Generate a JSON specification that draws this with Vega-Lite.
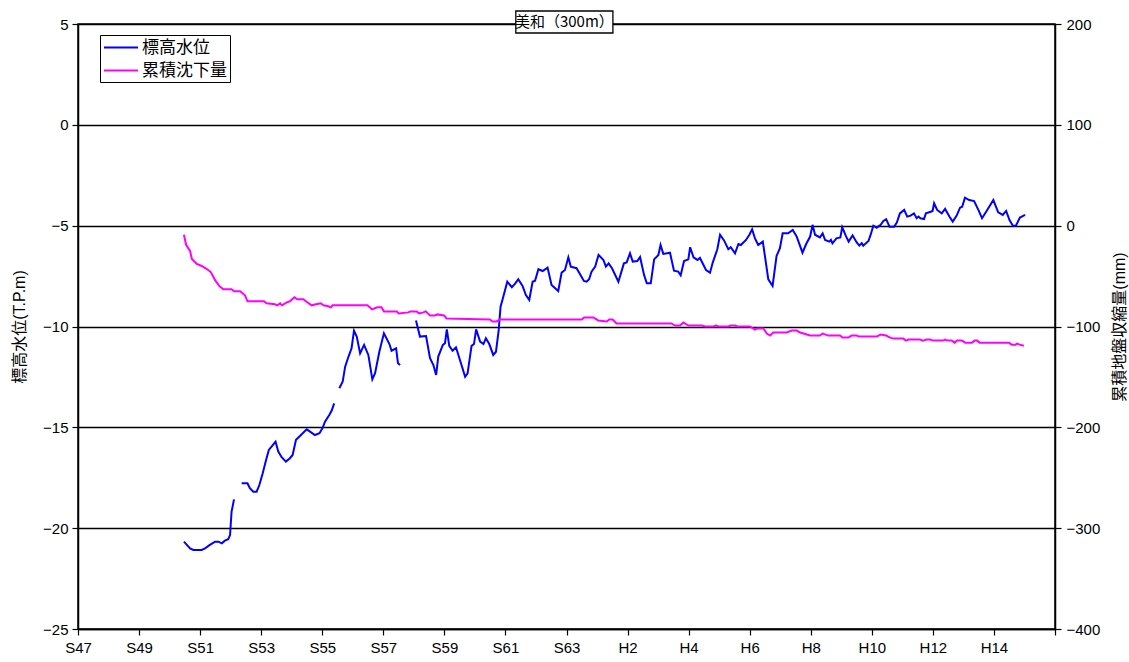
{
  "$schema": "https://vega.github.io/schema/vega-lite/v6.json",
  "width": 977,
  "height": 605,
  "autosize": "none",
  "padding": {"left": 78, "top": 24, "right": 74, "bottom": 33},
  "background": "white",
  "config": {
    "font": "Liberation Sans, Noto Sans CJK JP",
    "view": {"stroke": "black", "strokeWidth": 1.5},
    "axis": {
      "labelColor": "black", "labelFontSize": 15, "labelFont": "Liberation Sans",
      "titleColor": "black", "titleFontSize": 16, "titleFontWeight": "normal", "titleFont": "Liberation Sans, Noto Sans CJK JP",
      "domainColor": "black", "domainWidth": 1.5,
      "tickColor": "black", "tickWidth": 1.2, "tickSize": 6
    },
    "legend": {
      "orient": "none", "legendX": 22, "legendY": 11,
      "strokeColor": "black", "fillColor": "white", "padding": 3,
      "symbolType": "M-1,0L3,0", "symbolSize": 289, "symbolStrokeWidth": 2,
      "labelFontSize": 17, "labelFont": "Noto Sans CJK JP", "labelColor": "black",
      "rowPadding": 5, "labelOffset": 20, "title": null
    }
  },
  "datasets": {
    "level": [
      {"s":"標高水位","seg":1,"year":1975.47,"v":-20.67},{"s":"標高水位","seg":1,"year":1975.67,"v":-21.0},{"s":"標高水位","seg":1,"year":1975.78,"v":-21.08},{"s":"標高水位","seg":1,"year":1976.05,"v":-21.08},{"s":"標高水位","seg":1,"year":1976.16,"v":-21.0},{"s":"標高水位","seg":1,"year":1976.32,"v":-20.83},{"s":"標高水位","seg":1,"year":1976.49,"v":-20.67},{"s":"標高水位","seg":1,"year":1976.60,"v":-20.67},{"s":"標高水位","seg":1,"year":1976.71,"v":-20.75},{"s":"標高水位","seg":1,"year":1976.81,"v":-20.62},{"s":"標高水位","seg":1,"year":1976.92,"v":-20.55},{"s":"標高水位","seg":1,"year":1976.98,"v":-20.34},{"s":"標高水位","seg":1,"year":1977.03,"v":-19.18},{"s":"標高水位","seg":1,"year":1977.11,"v":-18.57},
      {"s":"標高水位","seg":2,"year":1977.36,"v":-17.77},{"s":"標高水位","seg":2,"year":1977.55,"v":-17.77},{"s":"標高水位","seg":2,"year":1977.63,"v":-18.02},{"s":"標高水位","seg":2,"year":1977.74,"v":-18.19},{"s":"標高水位","seg":2,"year":1977.85,"v":-18.19},{"s":"標高水位","seg":2,"year":1977.94,"v":-17.86},{"s":"標高水位","seg":2,"year":1978.05,"v":-17.28},{"s":"標高水位","seg":2,"year":1978.16,"v":-16.62},{"s":"標高水位","seg":2,"year":1978.25,"v":-16.12},{"s":"標高水位","seg":2,"year":1978.34,"v":-15.96},{"s":"標高水位","seg":2,"year":1978.47,"v":-15.71},{"s":"標高水位","seg":2,"year":1978.56,"v":-16.20},{"s":"標高水位","seg":2,"year":1978.67,"v":-16.48},{"s":"標高水位","seg":2,"year":1978.81,"v":-16.70},{"s":"標高水位","seg":2,"year":1978.94,"v":-16.53},{"s":"標高水位","seg":2,"year":1979.03,"v":-16.37},{"s":"標高水位","seg":2,"year":1979.14,"v":-15.62},{"s":"標高水位","seg":2,"year":1979.27,"v":-15.43},{"s":"標高水位","seg":2,"year":1979.49,"v":-15.10},{"s":"標高水位","seg":2,"year":1979.60,"v":-15.21},{"s":"標高水位","seg":2,"year":1979.76,"v":-15.38},{"s":"標高水位","seg":2,"year":1979.91,"v":-15.29},{"s":"標高水位","seg":2,"year":1980.01,"v":-15.04},{"s":"標高水位","seg":2,"year":1980.09,"v":-14.72},{"s":"標高水位","seg":2,"year":1980.23,"v":-14.39},{"s":"標高水位","seg":2,"year":1980.31,"v":-14.17},{"s":"標高水位","seg":2,"year":1980.39,"v":-13.81},
      {"s":"標高水位","seg":3,"year":1980.56,"v":-13.06},{"s":"標高水位","seg":3,"year":1980.67,"v":-12.73},{"s":"標高水位","seg":3,"year":1980.75,"v":-11.99},{"s":"標高水位","seg":3,"year":1980.86,"v":-11.49},{"s":"標高水位","seg":3,"year":1980.96,"v":-11.08},{"s":"標高水位","seg":3,"year":1981.04,"v":-10.21},{"s":"標高水位","seg":3,"year":1981.13,"v":-10.50},{"s":"標高水位","seg":3,"year":1981.24,"v":-11.33},{"s":"標高水位","seg":3,"year":1981.37,"v":-10.91},{"s":"標高水位","seg":3,"year":1981.51,"v":-11.41},{"s":"標高水位","seg":3,"year":1981.64,"v":-12.62},{"s":"標高水位","seg":3,"year":1981.73,"v":-12.32},{"s":"標高水位","seg":3,"year":1981.87,"v":-11.25},{"s":"標高水位","seg":3,"year":1981.91,"v":-11.0},{"s":"標高水位","seg":3,"year":1982.02,"v":-10.34},{"s":"標高水位","seg":3,"year":1982.20,"v":-10.87},{"s":"標高水位","seg":3,"year":1982.27,"v":-11.20},{"s":"標高水位","seg":3,"year":1982.42,"v":-11.08},{"s":"標高水位","seg":3,"year":1982.48,"v":-11.82},{"s":"標高水位","seg":3,"year":1982.55,"v":-11.91},
      {"s":"標高水位","seg":4,"year":1983.07,"v":-9.70},{"s":"標高水位","seg":4,"year":1983.20,"v":-10.50},{"s":"標高水位","seg":4,"year":1983.40,"v":-10.47},{"s":"標高水位","seg":4,"year":1983.53,"v":-11.57},{"s":"標高水位","seg":4,"year":1983.64,"v":-11.91},{"s":"標高水位","seg":4,"year":1983.73,"v":-12.40},{"s":"標高水位","seg":4,"year":1983.80,"v":-11.49},{"s":"標高水位","seg":4,"year":1983.95,"v":-10.91},{"s":"標高水位","seg":4,"year":1984.02,"v":-10.83},{"s":"標高水位","seg":4,"year":1984.08,"v":-10.14},{"s":"標高水位","seg":4,"year":1984.16,"v":-10.96},{"s":"標高水位","seg":4,"year":1984.27,"v":-11.20},{"s":"標高水位","seg":4,"year":1984.38,"v":-11.03},{"s":"標高水位","seg":4,"year":1984.51,"v":-11.66},{"s":"標高水位","seg":4,"year":1984.68,"v":-12.49},{"s":"標高水位","seg":4,"year":1984.76,"v":-12.32},{"s":"標高水位","seg":4,"year":1984.89,"v":-10.96},{"s":"標高水位","seg":4,"year":1984.97,"v":-10.87},{"s":"標高水位","seg":4,"year":1985.04,"v":-10.14},{"s":"標高水位","seg":4,"year":1985.17,"v":-10.75},{"s":"標高水位","seg":4,"year":1985.28,"v":-10.87},{"s":"標高水位","seg":4,"year":1985.36,"v":-10.58},{"s":"標高水位","seg":4,"year":1985.47,"v":-10.87},{"s":"標高水位","seg":4,"year":1985.60,"v":-11.41},{"s":"標高水位","seg":4,"year":1985.69,"v":-11.25},{"s":"標高水位","seg":4,"year":1985.78,"v":-10.17},{"s":"標高水位","seg":4,"year":1985.84,"v":-9.02},{"s":"標高水位","seg":4,"year":1985.93,"v":-8.52},{"s":"標高水位","seg":4,"year":1986.06,"v":-7.78},{"s":"標高水位","seg":4,"year":1986.21,"v":-8.05},{"s":"標高水位","seg":4,"year":1986.31,"v":-7.89},{"s":"標高水位","seg":4,"year":1986.42,"v":-7.66},{"s":"標高水位","seg":4,"year":1986.56,"v":-7.99},{"s":"標高水位","seg":4,"year":1986.67,"v":-8.44},{"s":"標高水位","seg":4,"year":1986.78,"v":-8.68},{"s":"標高水位","seg":4,"year":1986.89,"v":-7.78},{"s":"標高水位","seg":4,"year":1986.97,"v":-7.73},{"s":"標高水位","seg":4,"year":1987.08,"v":-7.16},{"s":"標高水位","seg":4,"year":1987.22,"v":-7.25},{"s":"標高水位","seg":4,"year":1987.38,"v":-7.08},{"s":"標高水位","seg":4,"year":1987.51,"v":-7.94},{"s":"標高水位","seg":4,"year":1987.73,"v":-8.24},{"s":"標高水位","seg":4,"year":1987.84,"v":-7.33},{"s":"標高水位","seg":4,"year":1987.95,"v":-7.20},{"s":"標高水位","seg":4,"year":1988.06,"v":-6.57},{"s":"標高水位","seg":4,"year":1988.14,"v":-7.03},{"s":"標高水位","seg":4,"year":1988.33,"v":-7.11},{"s":"標高水位","seg":4,"year":1988.57,"v":-7.74},{"s":"標高水位","seg":4,"year":1988.66,"v":-7.78},{"s":"標高水位","seg":4,"year":1988.74,"v":-7.66},{"s":"標高水位","seg":4,"year":1988.82,"v":-7.28},{"s":"標高水位","seg":4,"year":1988.94,"v":-7.03},{"s":"標高水位","seg":4,"year":1989.05,"v":-6.45},{"s":"標高水位","seg":4,"year":1989.21,"v":-6.70},{"s":"標高水位","seg":4,"year":1989.29,"v":-7.03},{"s":"標高水位","seg":4,"year":1989.38,"v":-6.87},{"s":"標高水位","seg":4,"year":1989.49,"v":-7.11},{"s":"標高水位","seg":4,"year":1989.70,"v":-7.78},{"s":"標高水位","seg":4,"year":1989.88,"v":-6.87},{"s":"標高水位","seg":4,"year":1989.97,"v":-6.82},{"s":"標高水位","seg":4,"year":1990.08,"v":-6.37},{"s":"標高水位","seg":4,"year":1990.17,"v":-6.78},{"s":"標高水位","seg":4,"year":1990.32,"v":-6.75},{"s":"標高水位","seg":4,"year":1990.41,"v":-6.55},{"s":"標高水位","seg":4,"year":1990.54,"v":-7.44},{"s":"標高水位","seg":4,"year":1990.63,"v":-7.86},{"s":"標高水位","seg":4,"year":1990.76,"v":-7.86},{"s":"標高水位","seg":4,"year":1990.87,"v":-6.67},{"s":"標高水位","seg":4,"year":1991.01,"v":-6.45},{"s":"標高水位","seg":4,"year":1991.08,"v":-5.96},{"s":"標高水位","seg":4,"year":1991.17,"v":-6.40},{"s":"標高水位","seg":4,"year":1991.39,"v":-6.34},{"s":"標高水位","seg":4,"year":1991.52,"v":-7.23},{"s":"標高水位","seg":4,"year":1991.66,"v":-7.28},{"s":"標高水位","seg":4,"year":1991.74,"v":-7.46},{"s":"標高水位","seg":4,"year":1991.85,"v":-6.75},{"s":"標高水位","seg":4,"year":1991.99,"v":-6.67},{"s":"標高水位","seg":4,"year":1992.05,"v":-6.07},{"s":"標高水位","seg":4,"year":1992.16,"v":-6.57},{"s":"標高水位","seg":4,"year":1992.29,"v":-6.70},{"s":"標高水位","seg":4,"year":1992.37,"v":-6.60},{"s":"標高水位","seg":4,"year":1992.57,"v":-7.20},{"s":"標高水位","seg":4,"year":1992.70,"v":-7.33},{"s":"標高水位","seg":4,"year":1992.79,"v":-6.83},{"s":"標高水位","seg":4,"year":1992.94,"v":-6.17},{"s":"標高水位","seg":4,"year":1993.03,"v":-5.45},{"s":"標高水位","seg":4,"year":1993.16,"v":-5.73},{"s":"標高水位","seg":4,"year":1993.30,"v":-6.17},{"s":"標高水位","seg":4,"year":1993.38,"v":-6.07},{"s":"標高水位","seg":4,"year":1993.52,"v":-6.37},{"s":"標高水位","seg":4,"year":1993.63,"v":-5.91},{"s":"標高水位","seg":4,"year":1993.71,"v":-5.96},{"s":"標高水位","seg":4,"year":1993.88,"v":-5.71},{"s":"標高水位","seg":4,"year":1993.99,"v":-5.45},{"s":"標高水位","seg":4,"year":1994.08,"v":-5.18},{"s":"標高水位","seg":4,"year":1994.17,"v":-5.62},{"s":"標高水位","seg":4,"year":1994.28,"v":-5.96},{"s":"標高水位","seg":4,"year":1994.43,"v":-5.79},{"s":"標高水位","seg":4,"year":1994.61,"v":-7.66},{"s":"標高水位","seg":4,"year":1994.75,"v":-7.99},{"s":"標高水位","seg":4,"year":1994.88,"v":-6.50},{"s":"標高水位","seg":4,"year":1994.99,"v":-6.12},{"s":"標高水位","seg":4,"year":1995.08,"v":-5.38},{"s":"標高水位","seg":4,"year":1995.26,"v":-5.38},{"s":"標高水位","seg":4,"year":1995.41,"v":-5.21},{"s":"標高水位","seg":4,"year":1995.54,"v":-5.54},{"s":"標高水位","seg":4,"year":1995.73,"v":-6.34},{"s":"標高水位","seg":4,"year":1995.85,"v":-5.91},{"s":"標高水位","seg":4,"year":1995.98,"v":-5.54},{"s":"標高水位","seg":4,"year":1996.06,"v":-4.96},{"s":"標高水位","seg":4,"year":1996.14,"v":-5.45},{"s":"標高水位","seg":4,"year":1996.30,"v":-5.58},{"s":"標高水位","seg":4,"year":1996.39,"v":-5.38},{"s":"標高水位","seg":4,"year":1996.47,"v":-5.71},{"s":"標高水位","seg":4,"year":1996.61,"v":-5.79},{"s":"標高水位","seg":4,"year":1996.66,"v":-5.70},{"s":"標高水位","seg":4,"year":1996.71,"v":-5.88},{"s":"標高水位","seg":4,"year":1996.84,"v":-5.63},{"s":"標高水位","seg":4,"year":1996.97,"v":-5.58},{"s":"標高水位","seg":4,"year":1997.03,"v":-5.08},{"s":"標高水位","seg":4,"year":1997.15,"v":-5.51},{"s":"標高水位","seg":4,"year":1997.24,"v":-5.79},{"s":"標高水位","seg":4,"year":1997.37,"v":-5.48},{"s":"標高水位","seg":4,"year":1997.50,"v":-5.82},{"s":"標高水位","seg":4,"year":1997.59,"v":-5.99},{"s":"標高水位","seg":4,"year":1997.67,"v":-5.87},{"s":"標高水位","seg":4,"year":1997.72,"v":-5.99},{"s":"標高水位","seg":4,"year":1997.89,"v":-5.76},{"s":"標高水位","seg":4,"year":1997.96,"v":-5.46},{"s":"標高水位","seg":4,"year":1998.05,"v":-5.00},{"s":"標高水位","seg":4,"year":1998.16,"v":-5.10},{"s":"標高水位","seg":4,"year":1998.29,"v":-4.96},{"s":"標高水位","seg":4,"year":1998.38,"v":-4.77},{"s":"標高水位","seg":4,"year":1998.47,"v":-4.68},{"s":"標高水位","seg":4,"year":1998.58,"v":-5.05},{"s":"標高水位","seg":4,"year":1998.73,"v":-5.05},{"s":"標高水位","seg":4,"year":1998.82,"v":-4.85},{"s":"標高水位","seg":4,"year":1998.92,"v":-4.39},{"s":"標高水位","seg":4,"year":1999.06,"v":-4.22},{"s":"標高水位","seg":4,"year":1999.16,"v":-4.55},{"s":"標高水位","seg":4,"year":1999.27,"v":-4.50},{"s":"標高水位","seg":4,"year":1999.38,"v":-4.39},{"s":"標高水位","seg":4,"year":1999.47,"v":-4.63},{"s":"標高水位","seg":4,"year":1999.53,"v":-4.55},{"s":"標高水位","seg":4,"year":1999.59,"v":-4.63},{"s":"標高水位","seg":4,"year":1999.71,"v":-4.67},{"s":"標高水位","seg":4,"year":1999.77,"v":-4.39},{"s":"標高水位","seg":4,"year":1999.93,"v":-4.31},{"s":"標高水位","seg":4,"year":1999.99,"v":-4.27},{"s":"標高水位","seg":4,"year":2000.04,"v":-3.89},{"s":"標高水位","seg":4,"year":2000.14,"v":-4.22},{"s":"標高水位","seg":4,"year":2000.29,"v":-4.39},{"s":"標高水位","seg":4,"year":2000.40,"v":-4.17},{"s":"標高水位","seg":4,"year":2000.54,"v":-4.55},{"s":"標高水位","seg":4,"year":2000.65,"v":-4.80},{"s":"標高水位","seg":4,"year":2000.78,"v":-4.50},{"s":"標高水位","seg":4,"year":2000.89,"v":-4.11},{"s":"標高水位","seg":4,"year":2000.96,"v":-4.06},{"s":"標高水位","seg":4,"year":2001.05,"v":-3.61},{"s":"標高水位","seg":4,"year":2001.19,"v":-3.73},{"s":"標高水位","seg":4,"year":2001.35,"v":-3.78},{"s":"標高水位","seg":4,"year":2001.49,"v":-4.22},{"s":"標高水位","seg":4,"year":2001.61,"v":-4.63},{"s":"標高水位","seg":4,"year":2001.76,"v":-4.27},{"s":"標高水位","seg":4,"year":2001.98,"v":-3.73},{"s":"標高水位","seg":4,"year":2002.14,"v":-4.34},{"s":"標高水位","seg":4,"year":2002.29,"v":-4.47},{"s":"標高水位","seg":4,"year":2002.40,"v":-4.27},{"s":"標高水位","seg":4,"year":2002.51,"v":-4.72},{"s":"標高水位","seg":4,"year":2002.62,"v":-5.00},{"s":"標高水位","seg":4,"year":2002.72,"v":-5.00},{"s":"標高水位","seg":4,"year":2002.85,"v":-4.60},{"s":"標高水位","seg":4,"year":2003.02,"v":-4.47}
    ],
    "sub": [
      {"s":"累積沈下量","year":1975.47,"v":-9},{"s":"累積沈下量","year":1975.54,"v":-19},{"s":"累積沈下量","year":1975.67,"v":-25},{"s":"累積沈下量","year":1975.73,"v":-33},{"s":"累積沈下量","year":1975.89,"v":-38},{"s":"累積沈下量","year":1976.05,"v":-40},{"s":"累積沈下量","year":1976.22,"v":-43},{"s":"累積沈下量","year":1976.35,"v":-46},{"s":"累積沈下量","year":1976.49,"v":-54},{"s":"累積沈下量","year":1976.63,"v":-60},{"s":"累積沈下量","year":1976.76,"v":-63},{"s":"累積沈下量","year":1977.03,"v":-63},{"s":"累積沈下量","year":1977.11,"v":-65},{"s":"累積沈下量","year":1977.31,"v":-65},{"s":"累積沈下量","year":1977.47,"v":-69},{"s":"累積沈下量","year":1977.55,"v":-75},{"s":"累積沈下量","year":1978.09,"v":-75},{"s":"累積沈下量","year":1978.18,"v":-77},{"s":"累積沈下量","year":1978.45,"v":-78},{"s":"累積沈下量","year":1978.53,"v":-79},{"s":"累積沈下量","year":1978.62,"v":-77},{"s":"累積沈下量","year":1978.68,"v":-79},{"s":"累積沈下量","year":1978.84,"v":-76},{"s":"累積沈下量","year":1978.94,"v":-75},{"s":"累積沈下量","year":1979.09,"v":-71},{"s":"累積沈下量","year":1979.18,"v":-73},{"s":"累積沈下量","year":1979.38,"v":-73},{"s":"累積沈下量","year":1979.51,"v":-76},{"s":"累積沈下量","year":1979.65,"v":-79},{"s":"累積沈下量","year":1979.80,"v":-78},{"s":"累積沈下量","year":1979.95,"v":-77},{"s":"累積沈下量","year":1980.04,"v":-79},{"s":"累積沈下量","year":1980.20,"v":-80},{"s":"累積沈下量","year":1980.28,"v":-81},{"s":"累積沈下量","year":1980.34,"v":-79},{"s":"累積沈下量","year":1981.48,"v":-79},{"s":"累積沈下量","year":1981.63,"v":-83},{"s":"累積沈下量","year":1981.80,"v":-81},{"s":"累積沈下量","year":1981.94,"v":-81},{"s":"累積沈下量","year":1982.02,"v":-85},{"s":"累積沈下量","year":1982.44,"v":-85},{"s":"累積沈下量","year":1982.50,"v":-87},{"s":"累積沈下量","year":1982.82,"v":-86},{"s":"累積沈下量","year":1982.89,"v":-85},{"s":"累積沈下量","year":1983.09,"v":-85},{"s":"累積沈下量","year":1983.17,"v":-87},{"s":"累積沈下量","year":1983.31,"v":-86},{"s":"累積沈下量","year":1983.39,"v":-85},{"s":"累積沈下量","year":1983.53,"v":-89},{"s":"累積沈下量","year":1983.69,"v":-89},{"s":"累積沈下量","year":1983.77,"v":-88},{"s":"累積沈下量","year":1983.99,"v":-89},{"s":"累積沈下量","year":1984.07,"v":-92},{"s":"累積沈下量","year":1985.49,"v":-93},{"s":"累積沈下量","year":1985.58,"v":-95},{"s":"累積沈下量","year":1985.71,"v":-95},{"s":"累積沈下量","year":1985.82,"v":-93},{"s":"累積沈下量","year":1988.50,"v":-93},{"s":"累積沈下量","year":1988.58,"v":-91},{"s":"累積沈下量","year":1988.88,"v":-91},{"s":"累積沈下量","year":1989.04,"v":-94},{"s":"累積沈下量","year":1989.32,"v":-95},{"s":"累積沈下量","year":1989.40,"v":-93},{"s":"累積沈下量","year":1989.51,"v":-93},{"s":"累積沈下量","year":1989.64,"v":-97},{"s":"累積沈下量","year":1991.44,"v":-97},{"s":"累積沈下量","year":1991.55,"v":-99},{"s":"累積沈下量","year":1991.72,"v":-99},{"s":"累積沈下量","year":1991.83,"v":-96},{"s":"累積沈下量","year":1991.99,"v":-99},{"s":"累積沈下量","year":1992.43,"v":-99},{"s":"累積沈下量","year":1992.54,"v":-100},{"s":"累積沈下量","year":1992.81,"v":-100},{"s":"累積沈下量","year":1992.90,"v":-99},{"s":"累積沈下量","year":1992.98,"v":-100},{"s":"累積沈下量","year":1993.30,"v":-100},{"s":"累積沈下量","year":1993.38,"v":-99},{"s":"累積沈下量","year":1993.52,"v":-99},{"s":"累積沈下量","year":1993.60,"v":-100},{"s":"累積沈下量","year":1994.01,"v":-100},{"s":"累積沈下量","year":1994.17,"v":-103},{"s":"累積沈下量","year":1994.25,"v":-102},{"s":"累積沈下量","year":1994.45,"v":-102},{"s":"累積沈下量","year":1994.56,"v":-107},{"s":"累積沈下量","year":1994.67,"v":-109},{"s":"累積沈下量","year":1994.77,"v":-106},{"s":"累積沈下量","year":1995.21,"v":-106},{"s":"累積沈下量","year":1995.38,"v":-104},{"s":"累積沈下量","year":1995.54,"v":-104},{"s":"累積沈下量","year":1995.65,"v":-106},{"s":"累積沈下量","year":1995.98,"v":-109},{"s":"累積沈下量","year":1996.30,"v":-109},{"s":"累積沈下量","year":1996.39,"v":-107},{"s":"累積沈下量","year":1996.58,"v":-109},{"s":"累積沈下量","year":1996.96,"v":-109},{"s":"累積沈下量","year":1997.04,"v":-111},{"s":"累積沈下量","year":1997.23,"v":-111},{"s":"累積沈下量","year":1997.34,"v":-109},{"s":"累積沈下量","year":1997.50,"v":-109},{"s":"累積沈下量","year":1997.59,"v":-110},{"s":"累積沈下量","year":1998.16,"v":-110},{"s":"累積沈下量","year":1998.29,"v":-108},{"s":"累積沈下量","year":1998.47,"v":-109},{"s":"累積沈下量","year":1998.60,"v":-111},{"s":"累積沈下量","year":1998.71,"v":-112},{"s":"累積沈下量","year":1999.03,"v":-112},{"s":"累積沈下量","year":1999.12,"v":-114},{"s":"累積沈下量","year":1999.20,"v":-113},{"s":"累積沈下量","year":1999.58,"v":-113},{"s":"累積沈下量","year":1999.67,"v":-114},{"s":"累積沈下量","year":1999.80,"v":-113},{"s":"累積沈下量","year":1999.91,"v":-113},{"s":"累積沈下量","year":2000.00,"v":-114},{"s":"累積沈下量","year":2000.34,"v":-114},{"s":"累積沈下量","year":2000.40,"v":-113},{"s":"累積沈下量","year":2000.47,"v":-114},{"s":"累積沈下量","year":2000.62,"v":-114},{"s":"累積沈下量","year":2000.71,"v":-116},{"s":"累積沈下量","year":2000.79,"v":-114},{"s":"累積沈下量","year":2000.95,"v":-114},{"s":"累積沈下量","year":2001.06,"v":-116},{"s":"累積沈下量","year":2001.28,"v":-116},{"s":"累積沈下量","year":2001.37,"v":-114},{"s":"累積沈下量","year":2001.45,"v":-114},{"s":"累積沈下量","year":2001.53,"v":-116},{"s":"累積沈下量","year":2002.49,"v":-116},{"s":"累積沈下量","year":2002.58,"v":-118},{"s":"累積沈下量","year":2002.71,"v":-118},{"s":"累積沈下量","year":2002.76,"v":-117},{"s":"累積沈下量","year":2002.84,"v":-118},{"s":"累積沈下量","year":2002.98,"v":-119}
    ]
  },
  "layer": [
    {
      "layer": [
        {
          "data": {"name": "level"},
          "mark": {"type": "line", "strokeWidth": 2},
          "encoding": {
            "x": {
              "field": "year", "type": "quantitative",
              "scale": {"domain": [1972, 2004], "nice": false, "zero": false},
              "axis": {
                "title": null, "grid": false,
                "values": [1972,1974,1976,1978,1980,1982,1984,1986,1988,1990,1992,1994,1996,1998,2000,2002,2004],
                "labelExpr": "datum.value >= 2004 ? '' : (datum.value < 1989 ? 'S' + (datum.value - 1925) : 'H' + (datum.value - 1988))",
                "labelPadding": 5, "labelFlush": false, "labelOverlap": false
              }
            },
            "y": {
              "field": "v", "type": "quantitative",
              "scale": {"domain": [-25, 5], "nice": false, "zero": false},
              "axis": {
                "orient": "left", "title": "標高水位(T.P.m)",
                "values": [-25,-20,-15,-10,-5,0,5],
                "grid": true, "gridColor": "black", "gridWidth": 1.3, "gridOpacity": 1,
                "labelPadding": 4, "titlePadding": 15
              }
            },
            "color": {
              "field": "s", "type": "nominal",
              "scale": {"domain": ["標高水位", "累積沈下量"], "range": ["#0000FF", "#FF00FF"]},
              "legend": {"title": null}
            },
            "detail": {"field": "seg", "type": "nominal"}
          }
        },
        {
          "data": {"values": [{"t": "美和（300m）"}]},
          "mark": {"type": "rect", "fill": "white", "stroke": "black", "strokeWidth": 1.3, "clip": false},
          "encoding": {
            "x": {"datum": 1986.34, "type": "quantitative"},
            "x2": {"datum": 1989.52},
            "y": {"datum": 5.645, "type": "quantitative"},
            "y2": {"datum": 4.554}
          }
        },
        {
          "data": {"values": [{"t": "美和（300m）"}]},
          "mark": {"type": "text", "fontSize": 15, "font": "Noto Sans CJK JP", "color": "black", "baseline": "middle", "align": "center", "clip": false},
          "encoding": {
            "x": {"datum": 1987.93, "type": "quantitative"},
            "y": {"datum": 5.1, "type": "quantitative"},
            "text": {"field": "t"}
          }
        }
      ]
    },
    {
      "data": {"name": "sub"},
      "mark": {"type": "line", "strokeWidth": 2},
      "encoding": {
        "x": {"field": "year", "type": "quantitative"},
        "y": {
          "field": "v", "type": "quantitative",
          "scale": {"domain": [-400, 200], "nice": false, "zero": false},
          "axis": {
            "orient": "right", "title": "累積地盤収縮量(mm)",
            "values": [-400,-300,-200,-100,0,100,200],
            "grid": false, "labelPadding": 5, "titlePadding": 28, "titleAngle": 270
          }
        },
        "color": {"field": "s", "type": "nominal"}
      }
    }
  ],
  "resolve": {"scale": {"y": "independent"}}
}
